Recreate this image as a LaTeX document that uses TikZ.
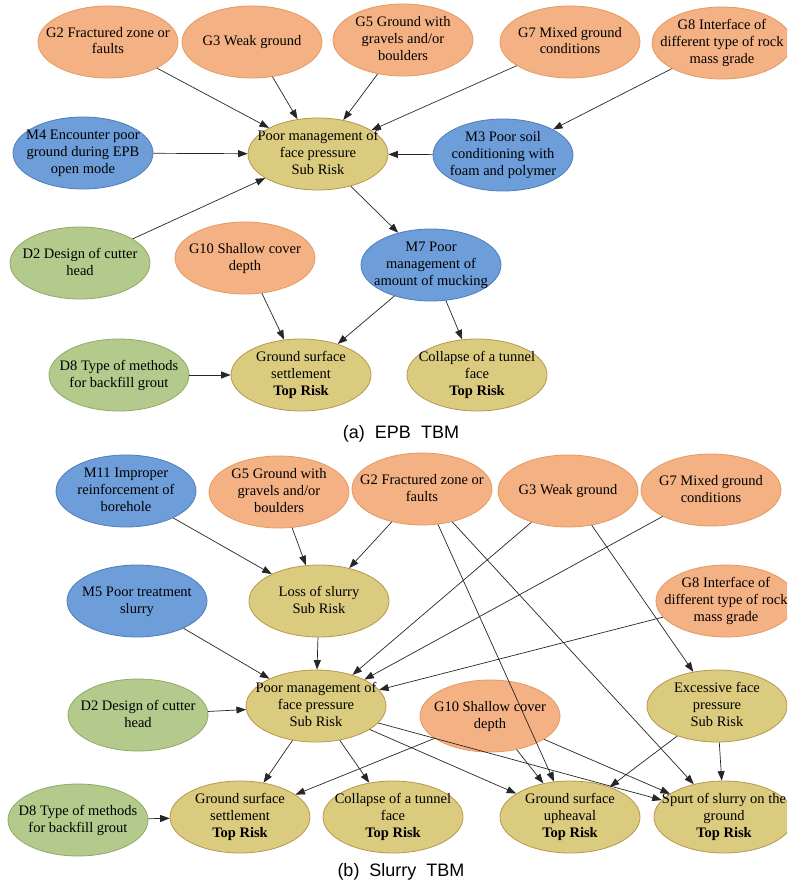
\documentclass[tikz,border=0pt]{standalone}
\usepackage{fontspec}
\setmainfont{Liberation Serif}
\newfontfamily\capfont{Liberation Sans}
\usetikzlibrary{shapes.geometric,arrows.meta}
\definecolor{orF}{HTML}{F4B183}
\definecolor{orD}{HTML}{E39A62}
\definecolor{blF}{HTML}{6D9EDA}
\definecolor{blD}{HTML}{4F7DB8}
\definecolor{grF}{HTML}{B4C98C}
\definecolor{grD}{HTML}{8EAB62}
\definecolor{olF}{HTML}{DBCB7E}
\definecolor{olD}{HTML}{B8964C}
\newcommand\nt[1]{\makebox[0pt]{\raisebox{-3.7pt}[0pt][0pt]{\begin{tabular}{@{}c@{}}#1\end{tabular}}}}
\tikzset{
  bub/.style={ellipse, minimum width=140pt, minimum height=72pt, inner sep=0pt, line width=0.8pt, font=\fontsize{14.5}{17}\selectfont},
  orn/.style={bub, fill=orF, draw=orD},
  blu/.style={bub, fill=blF, draw=blD},
  grn/.style={bub, fill=grF, draw=grD},
  olv/.style={bub, fill=olF, draw=olD},
  arr/.style={-{Triangle[length=9.5pt,width=7pt]}, line width=0.7pt, draw=black!85},
  captxt/.style={font=\capfont\fontsize{18}{21}\selectfont}
}
\begin{document}
\begin{tikzpicture}[x=1pt,y=-1pt]
\useasboundingbox (0,0) rectangle (787,883);
\clip (0,0) rectangle (787,883);
\fill[white] (0,0) rectangle (787,883);
% ---------- (a) EPB TBM ----------
\node[orn] (aG2) at (108,42) {\nt{G2 Fractured zone or\\faults}};
\node[orn] (aG3) at (252,42) {\nt{G3 Weak ground}};
\node[orn] (aG5) at (403,40) {\nt{G5 Ground with\\gravels and/or\\boulders}};
\node[orn] (aG7) at (570,42) {\nt{G7 Mixed ground\\conditions}};
\node[orn] (aG8) at (722,43) {\nt{G8 Interface of\\different type of rock\\mass grade}};
\node[blu] (aM4) at (83,153) {\nt{M4 Encounter poor\\ground during EPB\\open mode}};
\node[olv] (aPoor) at (318,154) {\nt{Poor management of\\face pressure\\Sub Risk}};
\node[blu] (aM3) at (503,155) {\nt{M3 Poor soil\\conditioning with\\foam and polymer}};
\node[grn] (aD2) at (80,263) {\nt{D2 Design of cutter\\head}};
\node[orn] (aG10) at (245,258) {\nt{G10 Shallow cover\\depth}};
\node[blu] (aM7) at (431,265) {\nt{M7 Poor\\management of\\amount of mucking}};
\node[grn] (aD8) at (119,375) {\nt{D8 Type of methods\\for backfill grout}};
\node[olv] (aGSS) at (301,375) {\nt{Ground surface\\settlement\\\textbf{Top Risk}}};
\node[olv] (aCol) at (477,375) {\nt{Collapse of a tunnel\\face\\\textbf{Top Risk}}};
\node[captxt] (capa) at (401,434) {(a)\ \ EPB\ \ TBM};
\draw[arr] (aG2) -- (aPoor);
\draw[arr] (aG3) -- (aPoor);
\draw[arr] (aG5) -- (aPoor);
\draw[arr] (aG7) -- (aPoor);
\draw[arr] (aG8) -- (aM3);
\draw[arr] (aM4) -- (aPoor);
\draw[arr] (aM3) -- (aPoor);
\draw[arr] (aD2) -- (aPoor);
\draw[arr] (aPoor) -- (aM7);
\draw[arr] (aG10) -- (aGSS);
\draw[arr] (aM7) -- (aGSS);
\draw[arr] (aM7) -- (aCol);
\draw[arr] (aD8) -- (aGSS);
% ---------- (b) Slurry TBM ----------
\node[blu] (bM11) at (126,491) {\nt{M11 Improper\\reinforcement of\\borehole}};
\node[orn] (bG5) at (279,492) {\nt{G5 Ground with\\gravels and/or\\boulders}};
\node[orn] (bG2) at (422,489) {\nt{G2 Fractured zone or\\faults}};
\node[orn] (bG3) at (568,491) {\nt{G3 Weak ground}};
\node[orn] (bG7) at (711,490) {\nt{G7 Mixed ground\\conditions}};
\node[blu] (bM5) at (137,601) {\nt{M5 Poor treatment\\slurry}};
\node[olv] (bLoss) at (319,601) {\nt{Loss of slurry\\Sub Risk}};
\node[orn] (bG8) at (726,601) {\nt{G8 Interface of\\different type of rock\\mass grade}};
\node[grn] (bD2) at (138,715) {\nt{D2 Design of cutter\\head}};
\node[olv] (bPoor) at (316,706) {\nt{Poor management of\\face pressure\\Sub Risk}};
\node[orn] (bG10) at (490,716) {\nt{G10 Shallow cover\\depth}};
\node[olv] (bExc) at (717,706) {\nt{Excessive face\\pressure\\Sub Risk}};
\node[grn] (bD8) at (78,820) {\nt{D8 Type of methods\\for backfill grout}};
\node[olv] (bGSS) at (240,817) {\nt{Ground surface\\settlement\\\textbf{Top Risk}}};
\node[olv] (bCol) at (393,817) {\nt{Collapse of a tunnel\\face\\\textbf{Top Risk}}};
\node[olv] (bGSU) at (570,817) {\nt{Ground surface\\upheaval\\\textbf{Top Risk}}};
\node[olv] (bSp) at (724,817) {\nt{Spurt of slurry on the\\ground\\\textbf{Top Risk}}};
\node[captxt] (capb) at (401,872) {(b)\ \ Slurry\ \ TBM};
\draw[arr] (bM11) -- (bLoss);
\draw[arr] (bG5) -- (bLoss);
\draw[arr] (bG2) -- (bLoss);
\draw[arr] (bLoss) -- (bPoor);
\draw[arr] (bM5) -- (bPoor);
\draw[arr] (bG3) -- (bPoor);
\draw[arr] (bG7) -- (bPoor);
\draw[arr] (bG8) -- (bPoor);
\draw[arr] (bD2) -- (bPoor);
\draw[arr] (bG2) -- (bGSU);
\draw[arr] (bG2) -- (bSp);
\draw[arr] (bG3) -- (bExc);
\draw[arr] (bPoor) -- (bGSS);
\draw[arr] (bPoor) -- (bCol);
\draw[arr] (bPoor) -- (bGSU);
\draw[arr] (bPoor) -- (bSp);
\draw[arr] (bG10) -- (bGSS);
\draw[arr] (bG10) -- (bGSU);
\draw[arr] (bG10) -- (bSp);
\draw[arr] (bExc) -- (bGSU);
\draw[arr] (bExc) -- (bSp);
\draw[arr] (bD8) -- (bGSS);
\end{tikzpicture}
\end{document}
